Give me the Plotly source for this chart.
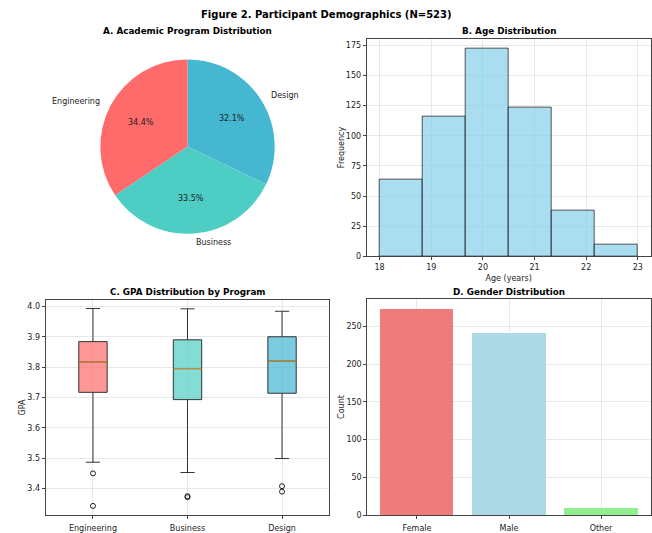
import math
import plotly.graph_objects as go

W, H = 652, 533

# ---- data ----
programs = ["Engineering", "Business", "Design"]
program_counts = [180, 175, 168]
program_colors = ["#FF6B6B", "#4ECDC4", "#45B7D1"]

age_bin_edges = [18.0, 18 + 5 / 6, 18 + 10 / 6, 20.5, 18 + 20 / 6, 18 + 25 / 6, 23.0]
age_counts = [64, 116, 172, 123, 38, 10]

gpa_q1 = [3.717, 3.693, 3.714]
gpa_median = [3.817, 3.795, 3.820]
gpa_q3 = [3.884, 3.890, 3.900]
gpa_low = [3.487, 3.453, 3.499]
gpa_high = [3.993, 3.992, 3.984]
gpa_outliers = [[3.450, 3.343], [3.372, 3.375], [3.408, 3.390]]
box_fill = ["rgba(255,107,107,0.7)", "rgba(78,205,196,0.7)", "rgba(69,183,209,0.7)"]

genders = ["Female", "Male", "Other"]
gender_counts = [273, 241, 9]
gender_colors = ["#EF7B7B", "#ADD8E6", "#90EE90"]

FONT = "DejaVu Sans"
TXT = "#222222"
GRID = "#e8e8e8"
LINE = "#444444"


def px_x(x):
    return x / W


def px_y(y):
    return 1 - y / H


fig = go.Figure()

# ---- A: pie (drawn clockwise in reverse order => counterclockwise from 12 o'clock) ----
pie_cx, pie_cy, pie_r = 187.5, 148.0, 88.0
fig.add_trace(go.Pie(
    labels=programs[::-1], values=program_counts[::-1], sort=False, direction="clockwise",
    rotation=0, marker=dict(colors=program_colors[::-1], line=dict(width=0)),
    textinfo="none", hoverinfo="label+percent", showlegend=False,
    domain=dict(x=[px_x(pie_cx - pie_r), px_x(pie_cx + pie_r)],
                y=[px_y(pie_cy + pie_r), px_y(pie_cy - pie_r)]),
))
annotations = []
total = sum(program_counts)
cum = 0
for lab, v in zip(programs, program_counts):
    theta = math.radians(90 + 360 * (cum + v / 2) / total)
    cum += v
    c, s = math.cos(theta), math.sin(theta)
    lx, ly = pie_cx + 1.1 * pie_r * c, pie_cy - 1.1 * pie_r * s
    annotations.append(dict(x=px_x(lx), y=px_y(ly), xref="paper", yref="paper",
                            text=lab, showarrow=False,
                            xanchor="left" if c > 0 else "right", yanchor="middle",
                            font=dict(family=FONT, size=8, color=TXT)))
    tx, ty = pie_cx + 0.6 * pie_r * c, pie_cy - 0.6 * pie_r * s
    annotations.append(dict(x=px_x(tx), y=px_y(ty), xref="paper", yref="paper",
                            text=f"{100 * v / total:.1f}%", showarrow=False,
                            xanchor="center", yanchor="middle",
                            font=dict(family=FONT, size=8, color=TXT)))

# ---- B: histogram ----
centers = [(a + b) / 2 for a, b in zip(age_bin_edges[:-1], age_bin_edges[1:])]
widths = [b - a for a, b in zip(age_bin_edges[:-1], age_bin_edges[1:])]
fig.add_trace(go.Bar(
    x=centers, y=age_counts, width=widths, xaxis="x", yaxis="y",
    marker=dict(color="rgba(135,206,235,0.7)", line=dict(color="rgba(0,0,0,0.65)", width=1)),
    showlegend=False,
))

# ---- C: box plot ----
for i, p in enumerate(programs):
    pos = i + 1
    fig.add_trace(go.Box(
        x=[pos], q1=[gpa_q1[i]], median=[gpa_median[i]], q3=[gpa_q3[i]],
        lowerfence=[gpa_low[i]], upperfence=[gpa_high[i]],
        width=0.3, whiskerwidth=0.5, fillcolor=box_fill[i],
        line=dict(color="#333333", width=1), boxpoints=False,
        xaxis="x2", yaxis="y2", showlegend=False, name=p,
    ))
med_x, med_y = [], []
for i in range(len(programs)):
    pos = i + 1
    med_x += [pos - 0.15, pos + 0.15, None]
    med_y += [gpa_median[i], gpa_median[i], None]
fig.add_trace(go.Scatter(x=med_x, y=med_y, mode="lines", line=dict(color="#E0962A", width=1),
                         xaxis="x2", yaxis="y2", showlegend=False, hoverinfo="skip"))
ox, oy = [], []
for i, outs in enumerate(gpa_outliers):
    for o in outs:
        ox.append(i + 1)
        oy.append(o)
fig.add_trace(go.Scatter(x=ox, y=oy, mode="markers",
                         marker=dict(symbol="circle-open", size=5, color="#222222", line=dict(width=1)),
                         xaxis="x2", yaxis="y2", showlegend=False))

# ---- D: bar ----
fig.add_trace(go.Bar(
    x=list(range(len(genders))), y=gender_counts, width=0.8,
    marker=dict(color=gender_colors, line=dict(width=0)),
    xaxis="x3", yaxis="y3", showlegend=False,
))

axis_common = dict(showline=True, mirror=True, linecolor=LINE, linewidth=1,
                   ticks="outside", ticklen=3, tickcolor=LINE, showgrid=True,
                   gridcolor=GRID, gridwidth=1, zeroline=False,
                   tickfont=dict(family=FONT, size=8, color=TXT))
title_font = dict(family=FONT, size=8, color=TXT)

fig.update_layout(
    width=W, height=H, margin=dict(l=0, r=0, t=0, b=0),
    paper_bgcolor="white", plot_bgcolor="white",
    font=dict(family=FONT, color=TXT),
    bargap=0,
    xaxis=dict(domain=[px_x(366.7), px_x(650.7)], range=[17.75, 23.25], tickvals=[18, 19, 20, 21, 22, 23],
               anchor="y", title=dict(text="Age (years)", font=title_font, standoff=4), **axis_common),
    yaxis=dict(domain=[px_y(258.7), px_y(39)], range=[0, 180.6], tickvals=[0, 25, 50, 75, 100, 125, 150, 175],
               anchor="x", title=dict(text="Frequency", font=title_font, standoff=0), **axis_common),
    xaxis2=dict(domain=[px_x(45.7), px_x(329.3)], range=[0.5, 3.5], tickvals=[1, 2, 3], ticktext=programs,
                anchor="y2", ticklabelstandoff=2, **axis_common),
    yaxis2=dict(domain=[px_y(520), px_y(302.7)], range=[3.3127, 4.0215], dtick=0.1, tickformat=".1f",
                anchor="x2", title=dict(text="GPA", font=title_font, standoff=0), **axis_common),
    xaxis3=dict(domain=[px_x(367.3), px_x(650.7)], range=[-0.54, 2.54], tickvals=[0, 1, 2], ticktext=genders,
                anchor="y3", ticklabelstandoff=2, **axis_common),
    yaxis3=dict(domain=[px_y(520), px_y(301.7)], range=[0, 286.65], tickvals=[0, 50, 100, 150, 200, 250],
                anchor="x3", title=dict(text="Count", font=title_font, standoff=0), **axis_common),
)

titles = [
    ("Figure 2. Participant Demographics (N=523)", 326, 15, 10),
    ("A. Academic Program Distribution", 187.5, 31, 8.8),
    ("B. Age Distribution", 508.7, 31, 8.8),
    ("C. GPA Distribution by Program", 187.5, 294.5, 8.8),
    ("D. Gender Distribution", 509, 294.5, 8.8),
]
for t, x, y, s in titles:
    annotations.append(dict(x=px_x(x), y=px_y(y), xref="paper", yref="paper", text=f"<b>{t}</b>",
                            showarrow=False, xanchor="center", yanchor="middle",
                            font=dict(family=FONT, size=s, color="#000000")))
fig.update_layout(annotations=annotations)

fig.write_html("out.html", config={"displayModeBar": False},
               post_script="document.body.style.margin='0px';document.body.style.overflow='hidden';")
